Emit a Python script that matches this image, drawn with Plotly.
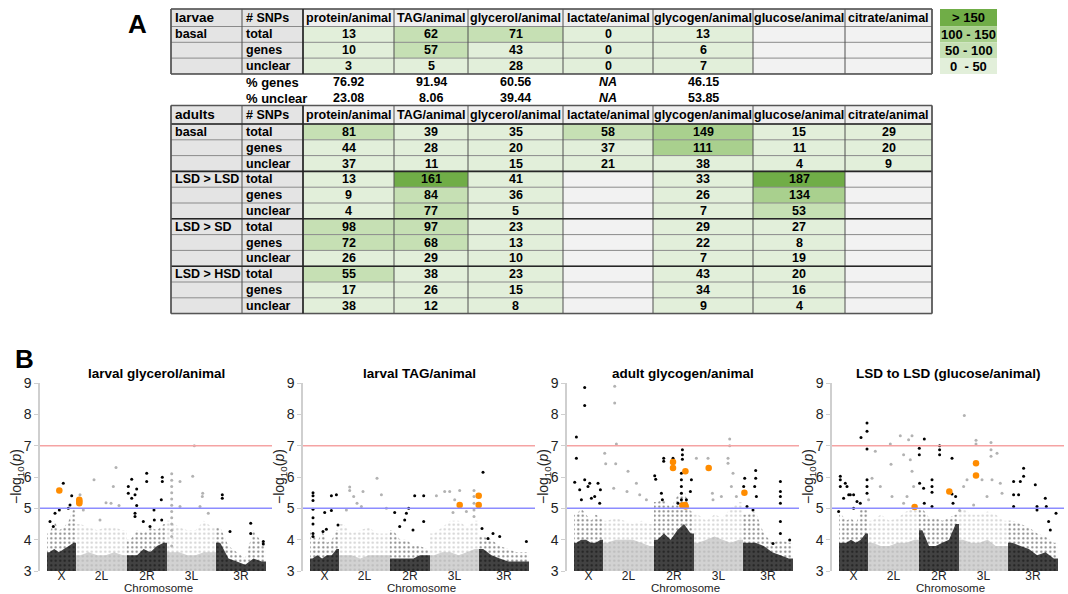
import plotly.graph_objects as go

W, H = 1068, 594
FONT = "Liberation Sans, Arial, sans-serif"

# ---------------- Table A data ----------------
metrics = ["protein/animal", "TAG/animal", "glycerol/animal", "lactate/animal",
           "glycogen/animal", "glucose/animal", "citrate/animal"]
row_kinds = ["total", "genes", "unclear"]

larvae_total = [13, 62, 71, 0, 13, None, None]
larvae_genes = [10, 57, 43, 0, 6, None, None]
larvae_unclear = [3, 5, 28, 0, 7, None, None]
pct_genes = ["76.92", "91.94", "60.56", "NA", "46.15", "", ""]
pct_unclear = ["23.08", "8.06", "39.44", "NA", "53.85", "", ""]

adult_groups = ["basal", "LSD > LSD", "LSD > SD", "LSD > HSD"]
basal_total = [81, 39, 35, 58, 149, 15, 29]
basal_genes = [44, 28, 20, 37, 111, 11, 20]
basal_unclear = [37, 11, 15, 21, 38, 4, 9]
lsd_lsd_total = [13, 161, 41, None, 33, 187, None]
lsd_lsd_genes = [9, 84, 36, None, 26, 134, None]
lsd_lsd_unclear = [4, 77, 5, None, 7, 53, None]
lsd_sd_total = [98, 97, 23, None, 29, 27, None]
lsd_sd_genes = [72, 68, 13, None, 22, 8, None]
lsd_sd_unclear = [26, 29, 10, None, 7, 19, None]
lsd_hsd_total = [55, 38, 23, None, 43, 20, None]
lsd_hsd_genes = [17, 26, 15, None, 34, 16, None]
lsd_hsd_unclear = [38, 12, 8, None, 9, 4, None]

legend_labels = ["> 150", "100 - 150", "50 - 100", "0  - 50"]
legend_colors = ["#70ad47", "#a9d08e", "#c6e0b4", "#e2efda"]
legend_bounds = [150, 100, 50, 0]

# ---------------- Manhattan data ----------------
chrom_arms = ["X", "2L", "2R", "3L", "3R"]
arm_start = [7, 36, 87, 127, 176]
arm_end = [36, 87, 127, 176, 226]
thresh_red = 7
thresh_blue = 5

titles = ["larval glycerol/animal", "larval TAG/animal",
          "adult glycogen/animal", "LSD to LSD (glucose/animal)"]

# dense-cloud envelopes (upper -log10 p per arm, 6 bins across each arm)
p1_core = [[3.6, 3.7, 3.6, 3.7, 3.8, 3.9], [3.5, 3.6, 3.5, 3.5, 3.6, 3.5], [3.5, 3.5, 3.7, 3.6, 3.8, 3.9],
           [3.6, 3.6, 3.5, 3.5, 3.6, 3.6], [3.9, 3.4, 3.3, 3.2, 3.4, 3.3]]
p1_halo = [[4.2, 4.6, 4.3, 4.4, 4.6, 5.0], [4.5, 4.4, 4.3, 4.4, 4.4, 4.3], [4.0, 4.3, 4.2, 4.4, 4.3, 4.5],
           [4.6, 4.4, 4.3, 4.3, 4.6, 4.4], [4.4, 3.8, 3.6, 3.4, 4.3, 3.9]]
p2_core = [[3.4, 3.5, 3.4, 3.5, 3.5, 3.7], [3.5, 3.5, 3.4, 3.5, 3.5, 3.5], [3.4, 3.4, 3.4, 3.4, 3.5, 3.5],
           [3.5, 3.6, 3.6, 3.5, 3.6, 3.7], [3.7, 3.5, 3.4, 3.3, 3.3, 3.3]]
p2_halo = [[4.3, 3.9, 4.3, 3.9, 4.0, 4.3], [4.5, 4.2, 4.3, 4.4, 4.2, 4.2], [4.3, 4.0, 4.0, 3.8, 3.8, 3.7],
           [4.2, 4.4, 4.6, 4.6, 4.4, 4.6], [4.1, 4.0, 3.8, 3.7, 3.6, 3.6]]
p3_core = [[3.9, 4.0, 4.0, 3.9, 3.9, 4.0], [3.9, 4.0, 4.0, 4.0, 3.9, 3.8], [4.0, 4.2, 4.0, 4.3, 4.5, 4.2],
           [3.9, 4.0, 4.1, 4.0, 3.9, 4.0], [3.9, 3.9, 3.8, 3.6, 3.5, 3.4]]
p3_halo = [[4.8, 5.0, 4.8, 4.6, 4.8, 4.7], [4.6, 4.7, 4.6, 4.5, 4.6, 4.5], [5.2, 5.3, 5.0, 5.4, 5.6, 4.9],
           [4.8, 4.6, 4.8, 4.7, 5.0, 5.2], [4.8, 4.9, 4.2, 3.9, 4.0, 3.9]]
p4_core = [[3.9, 3.9, 4.0, 3.9, 4.0, 4.2], [3.9, 3.8, 3.8, 3.9, 3.9, 4.0], [4.3, 3.8, 3.8, 3.9, 4.0, 4.5],
           [4.0, 3.9, 3.9, 4.0, 3.8, 3.8], [3.9, 3.8, 3.7, 3.5, 3.6, 3.4]]
p4_halo = [[4.8, 4.6, 4.7, 4.5, 5.0, 5.0], [4.6, 4.8, 4.6, 4.7, 4.9, 5.0], [5.0, 4.7, 4.7, 4.6, 4.7, 4.8],
           [5.0, 4.8, 4.8, 4.9, 4.8, 4.6], [4.6, 4.5, 4.4, 4.2, 4.1, 3.9]]

# individual SNPs standing out above the cloud (position, -log10 p)
p1_x = [23.3, 31.7, 15.0, 10.0, 19.3, 28.3, 30.0, 13.3,
        40.0, 54.0, 66.0, 76.0, 73.3, 71.0, 79.0, 43.3, 60.0,
        88.3, 88.3, 91.7, 95.0, 96.7, 91.7, 106.7, 106.7, 96.7, 95.0, 95.0, 103.3, 114.0, 122.3, 122.3,
        121.3, 114.3, 121.7, 110.0,
        131.7, 131.7, 131.7, 131.7, 131.7, 131.7, 131.7, 131.7, 131.7, 131.7, 131.7, 131.7,
        140.0, 152.7, 140.0, 154.3, 162.3, 162.7, 160.0, 168.3,
        182.3, 182.3, 210.7, 210.7, 190.0, 223.3, 223.3]
p1_y = [5.80, 5.40, 4.84, 4.58, 4.95, 5.00, 5.11, 4.42,
        5.43, 5.91, 5.18, 6.30, 5.70, 5.16, 5.09, 4.95, 4.63,
        5.70, 5.48, 5.32, 5.43, 5.62, 5.93, 6.12, 5.86, 5.09, 4.84, 4.74, 4.58, 4.95, 5.99, 5.86,
        5.27, 4.63, 4.63, 4.42,
        3.8, 4.1, 4.3, 4.5, 4.7, 4.9, 5.1, 5.3, 5.5, 5.7, 5.9, 6.1,
        5.86, 6.02, 5.06, 7.00, 5.38, 5.48, 5.06, 4.84,
        5.43, 5.32, 4.52, 4.20, 4.26, 3.94, 3.86]
p1_hit_x = [19.3, 39.3, 39.3, 39.3]
p1_hit_y = [5.57, 5.27, 5.22, 5.16]

p2_x = [10.0, 10.0, 10.0, 10.0, 10.0, 10.0, 10.0, 10.0, 28.4, 33.4, 28.4, 21.7, 35.0, 23.4, 20.0,
        46.7, 46.7, 60.0, 50.7, 74.0, 78.4, 54.0, 43.4, 58.4, 83.4,
        111.7, 120.7, 105.7, 103.4, 101.7, 96.7, 91.7, 120.7, 110.0,
        133.4, 141.7, 146.7, 156.7, 171.0, 171.0, 171.0, 171.0, 171.0, 151.7, 150.0, 163.4,
        180.0, 179.0, 185.0, 190.0, 196.7, 223.4]
p2_y = [5.50, 5.40, 5.25, 4.97, 4.70, 4.50, 4.20, 4.10, 5.40, 5.43, 4.93, 4.87, 4.47, 4.33, 4.26,
        5.68, 5.57, 5.54, 5.38, 5.96, 5.43, 5.16, 4.95, 5.06, 5.00,
        5.40, 5.40, 5.00, 4.84, 4.63, 4.42, 4.87, 4.58, 4.31,
        5.40, 5.54, 5.54, 5.57, 5.57, 5.38, 5.16, 4.95, 4.74, 5.27, 4.87, 4.90,
        6.15, 4.36, 4.04, 4.20, 4.10, 3.94]
p2_hit_x = [156.7, 175.7, 175.7]
p2_hit_y = [5.11, 5.40, 5.11]

p3_x = [17.7, 17.7, 9.4, 9.4, 7.7, 12.7, 17.7, 21.0, 22.7, 24.4, 31.0, 33.4, 32.7, 14.4, 27.7,
        47.7, 47.7, 49.4, 37.7, 38.7, 48.7, 61.0, 46.7, 60.0, 69.4, 72.7, 79.4,
        96.7, 96.7, 106.0, 87.7, 88.7, 94.4, 95.4, 115.4, 115.4, 115.4, 114.4, 114.4, 114.4, 114.4,
        114.4, 124.4, 123.4, 119.4, 111.0,
        129.4, 141.0, 162.7, 162.7, 161.0, 161.0, 166.0, 145.4, 146.0, 154.4, 164.4, 169.4,
        177.7, 176.7, 176.7, 180.0, 188.7, 188.7, 187.7, 189.4, 186.0, 213.4, 213.4, 213.4, 213.4,
        213.4, 213.4, 222.7, 206.0]
p3_y = [8.86, 8.28, 7.28, 6.60, 5.83, 5.59, 5.91, 5.70, 5.80, 5.32, 5.80, 5.59, 5.16, 5.27, 5.38,
        8.90, 8.36, 7.05, 6.76, 6.42, 6.42, 6.18, 5.64, 5.54, 5.80, 5.43, 5.27,
        6.60, 6.50, 6.60, 6.04, 5.93, 5.48, 5.27, 6.87, 6.71, 6.57, 6.12, 5.91, 5.70, 5.48,
        5.27, 5.91, 5.54, 5.27, 5.16,
        6.60, 6.60, 7.21, 7.00, 6.60, 6.44, 6.12, 5.48, 5.27, 5.38, 5.70, 5.38,
        5.96, 5.70, 5.48, 5.06, 6.21, 5.96, 5.70, 5.38, 4.95, 5.86, 5.54, 5.38, 5.16,
        4.58, 4.20, 3.99, 3.88]
p3_hit_x = [106.0, 106.0, 118.4, 115.4, 118.0, 118.7, 141.7, 177.4]
p3_hit_y = [6.48, 6.29, 6.18, 5.09, 5.11, 5.06, 6.29, 5.50]

p4_x = [35.0, 35.0, 35.0, 29.0, 8.3, 8.3, 8.3, 13.3, 15.0, 16.7, 18.3, 21.6, 11.6, 25.0, 28.3,
        35.0, 35.0, 35.0, 36.6, 6.6, 21.6,
        43.3, 68.3, 76.6, 80.0, 58.3, 59.0, 71.6, 78.3, 80.0, 40.0, 48.3, 60.0, 75.0, 71.6, 81.6,
        87.3, 87.3, 92.3, 87.6, 91.6, 92.3, 100.0, 100.0, 100.0, 100.0, 107.6, 107.6, 107.6,
        120.0, 120.0, 123.6, 121.0, 127.6,
        132.3, 144.0, 144.0, 159.0, 159.0, 165.0, 159.0, 135.0, 131.6, 150.0, 160.0, 168.3, 170.0,
        155.0, 141.6,
        181.6, 181.6, 181.6, 188.3, 191.6, 191.6, 186.6, 203.3, 205.0, 205.0, 213.3, 214.3, 224.0,
        216.6, 218.3]
p4_y = [7.72, 7.46, 6.89, 7.26, 6.02, 5.91, 5.70, 5.80, 5.70, 5.43, 5.43, 5.43, 5.32, 5.22, 5.16,
        5.91, 5.70, 5.48, 5.27, 4.90, 5.00,
        6.82, 7.32, 7.19, 7.32, 7.05, 6.41, 6.71, 6.55, 6.18, 5.96, 5.70, 5.38, 5.38, 5.16, 5.70,
        6.92, 6.71, 7.21, 5.80, 5.64, 5.16, 5.91, 5.70, 5.51, 5.06, 7.00, 6.87, 6.71,
        6.60, 5.46, 5.38, 5.16, 4.93,
        7.96, 7.17, 7.05, 7.10, 6.87, 6.76, 6.66, 5.91, 5.70, 5.91, 5.91, 5.80, 5.48,
        5.38, 5.11,
        5.86, 5.43, 5.06, 5.86, 6.02, 6.28, 5.43, 5.75, 4.95, 5.06, 5.32, 5.06, 4.84,
        4.58, 4.31]
p4_hit_x = [82.6, 117.3, 144.0, 144.0]
p4_hit_y = [5.04, 5.54, 6.44, 6.05]

# ---------------- helpers ----------------
def px(x):
    return x / W


def py(y):
    return 1 - y / H


shapes = []
annotations = []
TS = 12.5  # table font size


def rect(x0, y0, x1, y1, fill):
    shapes.append(dict(type="rect", xref="paper", yref="paper", x0=px(x0), x1=px(x1),
                       y0=py(y1), y1=py(y0), fillcolor=fill, line=dict(width=0), layer="below"))


def line(x0, y0, x1, y1, color, width):
    shapes.append(dict(type="line", xref="paper", yref="paper", x0=px(x0), x1=px(x1),
                       y0=py(y0), y1=py(y1), line=dict(color=color, width=width)))


def text(x, y, s, anchor="center", size=TS, bold=True, italic=False, color="#000"):
    if italic:
        s = "<i>" + s + "</i>"
    if bold:
        s = "<b>" + s + "</b>"
    annotations.append(dict(x=px(x), y=py(y), xref="paper", yref="paper", text=s,
                            showarrow=False, xanchor=anchor, yanchor="middle",
                            font=dict(family=FONT, size=size, color=color)))


def value_color(v):
    if v is None:
        return "#f2f2f2"
    for b, c in zip(legend_bounds, legend_colors):
        if v > b or b == 0:
            return c
    return legend_colors[-1]


col_edges = [171, 242, 303, 394, 468, 563, 653, 753, 845, 932]
GREY = "#e4e4e4"
HEAD = "#efefef"


def block(top, hh, rh, title, rows, seps):
    y_edges = [top, top + hh] + [top + hh + rh * (i + 1) for i in range(len(rows))]
    rect(col_edges[0], y_edges[0], col_edges[1], y_edges[1], GREY)
    rect(col_edges[1], y_edges[0], col_edges[2], y_edges[1], GREY)
    yc = (y_edges[0] + y_edges[1]) / 2
    text(col_edges[0] + 2, yc, title, anchor="left", size=13.5)
    text(col_edges[1] + 2, yc, "# SNPs", anchor="left")
    for j, m in enumerate(metrics):
        rect(col_edges[j + 2], y_edges[0], col_edges[j + 3], y_edges[1], HEAD)
        text((col_edges[j + 2] + col_edges[j + 3]) / 2, yc, m)
    for i, (g, lab, vals) in enumerate(rows):
        y0, y1 = y_edges[i + 1], y_edges[i + 2]
        yc = (y0 + y1) / 2
        rect(col_edges[0], y0, col_edges[1], y1, GREY)
        rect(col_edges[1], y0, col_edges[2], y1, GREY)
        if g:
            text(col_edges[0] + 2, yc, g, anchor="left")
        text(col_edges[1] + 2, yc, lab, anchor="left")
        for j, v in enumerate(vals):
            rect(col_edges[j + 2], y0, col_edges[j + 3], y1, value_color(v))
            if v is not None:
                text((col_edges[j + 2] + col_edges[j + 3]) / 2, yc, str(v))
    for y in y_edges:
        line(col_edges[0], y, col_edges[-1], y, "#8a8a8a", 1)
    for x in col_edges:
        line(x, y_edges[0], x, y_edges[-1], "#505050", 1)
    for idx in seps:
        line(col_edges[0], y_edges[idx], col_edges[-1], y_edges[idx], "#262626", 1.6)
    line(col_edges[0], y_edges[0], col_edges[-1], y_edges[0], "#555", 1.5)
    line(col_edges[0], y_edges[-1], col_edges[-1], y_edges[-1], "#555", 1.5)
    line(col_edges[0], y_edges[0], col_edges[0], y_edges[-1], "#555", 1.5)
    line(col_edges[-1], y_edges[0], col_edges[-1], y_edges[-1], "#555", 1.5)
    line(col_edges[2], y_edges[0], col_edges[2], y_edges[-1], "#222", 1.5)
    return y_edges


larvae_rows = [("basal", row_kinds[0], larvae_total), ("", row_kinds[1], larvae_genes),
               ("", row_kinds[2], larvae_unclear)]
ly = block(9, 17.5, 15.8, "larvae", larvae_rows, [])
for lab, vals, yc in (("% genes", pct_genes, 82), ("% unclear", pct_unclear, 98)):
    text(col_edges[1] + 2, yc, lab, anchor="left", size=13)
    for j, v in enumerate(vals):
        if v:
            text((col_edges[j + 2] + col_edges[j + 3]) / 2, yc, v, italic=(v == "NA"))

adult_rows = []
for g, (t, ge, u) in zip(adult_groups, [(basal_total, basal_genes, basal_unclear),
                                        (lsd_lsd_total, lsd_lsd_genes, lsd_lsd_unclear),
                                        (lsd_sd_total, lsd_sd_genes, lsd_sd_unclear),
                                        (lsd_hsd_total, lsd_hsd_genes, lsd_hsd_unclear)]):
    adult_rows += [(g, row_kinds[0], t), ("", row_kinds[1], ge), ("", row_kinds[2], u)]
block(105.5, 18.5, 15.8, "adults", adult_rows, [1, 4, 7, 10])

for i, (lab, c) in enumerate(zip(legend_labels, legend_colors)):
    y0, y1 = ly[i], ly[i + 1]
    rect(940, y0, 997, y1, c)
    text(968.5, (y0 + y1) / 2, lab, size=13)

text(137, 24, "A", size=26)
text(24, 359, "B", size=26)

# ---------------- Manhattan panels ----------------
fig = go.Figure()
panel_left = [40, 303, 567, 832]
PW = 232
y_bot, y_top = 571, 383

panels = [(p1_core, p1_halo, p1_x, p1_y, p1_hit_x, p1_hit_y),
          (p2_core, p2_halo, p2_x, p2_y, p2_hit_x, p2_hit_y),
          (p3_core, p3_halo, p3_x, p3_y, p3_hit_x, p3_hit_y),
          (p4_core, p4_halo, p4_x, p4_y, p4_hit_x, p4_hit_y)]

BLACK = "#000000"
LGREY = "#b2b2b2"
RGB_DARK = "0,0,0"
RGB_GREY = "165,165,165"


def arm_of(x):
    for i, e in enumerate(arm_end):
        if x < e:
            return i
    return len(arm_end) - 1


def envelope(a, heights):
    x0, x1 = arm_start[a], arm_end[a]
    n = len(heights)
    w = (x1 - x0) / n
    xx = [x0, x0] + [x0 + (i + 0.5) * w for i in range(n)] + [x1, x1]
    yy = [3, heights[0]] + list(heights) + [heights[-1], 3]
    return xx, yy


tick_pos = [(s + e) / 2 for s, e in zip(arm_start, arm_end)]
layout_axes = {}
for k, (core, halo, xs_, ys_, hx, hy) in enumerate(panels):
    sfx = "" if k == 0 else str(k + 1)
    xa, ya = "x" + sfx, "y" + sfx
    for a in range(len(chrom_arms)):
        dark = a % 2 == 0
        rgb = RGB_DARK if dark else RGB_GREY
        # sparse halo of dots
        xx, yy = envelope(a, halo[a])
        fig.add_trace(go.Scatter(
            x=xx, y=yy, xaxis=xa, yaxis=ya, mode="none", fill="toself",
            fillcolor="rgba(0,0,0,0)",
            fillpattern=dict(shape=".", fgcolor=f"rgb({rgb})", bgcolor="rgba(0,0,0,0)",
                             size=4.5, solidity=0.18 if dark else 0.22),
            hoverinfo="skip", showlegend=False))
        # dense core
        xx, yy = envelope(a, core[a])
        fig.add_trace(go.Scatter(
            x=xx, y=yy, xaxis=xa, yaxis=ya, mode="none", fill="toself",
            fillcolor=f"rgba({rgb},{0.74 if dark else 0.5})",
            hoverinfo="skip", showlegend=False))
    colors = [BLACK if arm_of(x) % 2 == 0 else LGREY for x in xs_]
    fig.add_trace(go.Scatter(x=xs_, y=ys_, xaxis=xa, yaxis=ya, mode="markers",
                             marker=dict(size=3, color=colors, line=dict(width=0)),
                             showlegend=False, cliponaxis=False))
    fig.add_trace(go.Scatter(x=hx, y=hy, xaxis=xa, yaxis=ya, mode="markers",
                             marker=dict(size=6.5, color="#ff8c00", line=dict(width=0)),
                             showlegend=False, cliponaxis=False))
    left = panel_left[k]
    layout_axes["xaxis" + sfx] = dict(
        domain=[px(left), px(left + PW)], range=[0, PW], anchor="free", position=py(567),
        automargin=False, showgrid=False, zeroline=False, showline=False, ticks="",
        tickvals=tick_pos, ticktext=chrom_arms,
        tickfont=dict(family=FONT, size=12, color="#222"))
    layout_axes["yaxis" + sfx] = dict(
        domain=[py(y_bot), py(y_top)], range=[3, 9], anchor=xa, automargin=False,
        showgrid=False, zeroline=False, showline=True, linecolor="#cfcfcf", linewidth=1.5,
        ticks="outside", ticklen=4, tickcolor="#cfcfcf", tickvals=[3, 4, 5, 6, 7, 8, 9],
        tickfont=dict(family=FONT, size=14, color="#222"))
    for yv, c in ((thresh_red, "#f5a3a3"), (thresh_blue, "#8c8cff")):
        shapes.append(dict(type="line", xref=xa, yref=ya, x0=0, x1=PW, y0=yv, y1=yv,
                           line=dict(color=c, width=1.5)))
    text(left + PW / 2, 373, titles[k], size=13.5)
    text(left + PW / 2 + 2, 587.5, "Chromosome", size=11.5, bold=False, color="#222")
    annotations.append(dict(x=px(left - 23), y=py(477), xref="paper", yref="paper",
                            text="−log<sub>10</sub>(<i>p</i>)", textangle=-90, showarrow=False,
                            xanchor="center", yanchor="middle",
                            font=dict(family=FONT, size=14, color="#222")))

fig.update_layout(width=W, height=H, margin=dict(l=0, r=0, t=0, b=0, pad=0),
                  paper_bgcolor="white", plot_bgcolor="white", autosize=False,
                  shapes=shapes, annotations=annotations, showlegend=False, **layout_axes)
fig.write_html("out.html", config={"displayModeBar": False},
               post_script="document.body.style.margin='0px';document.body.style.padding='0px';")
